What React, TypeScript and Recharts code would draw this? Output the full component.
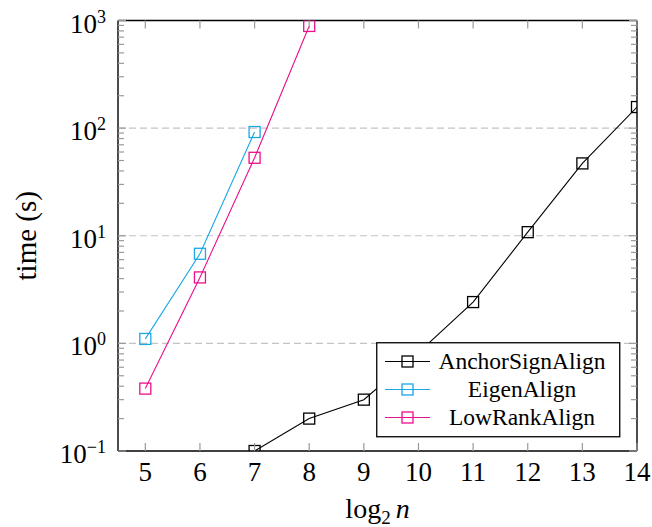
import React from "react";
import { LineChart, Line, XAxis, YAxis, ReferenceLine } from "recharts";

const logN = [5, 6, 7, 8, 9, 10, 11, 12, 13, 14];
const anchorSignAlign = [null, null, 0.1, 0.2, 0.3, 0.82, 2.42, 10.8, 47, 157];
const eigenAlign = [1.1, 6.8, 92, null, null, null, null, null, null, null];
const lowRankAlign = [0.38, 4.1, 53, 890, null, null, null, null, null, null];

const majorTicks = [0.1, 1, 10, 100, 1000];
const minorTicks = [
  0.2, 0.3, 0.4, 0.5, 0.6, 0.7, 0.8, 0.9,
  2, 3, 4, 5, 6, 7, 8, 9,
  20, 30, 40, 50, 60, 70, 80, 90,
  200, 300, 400, 500, 600, 700, 800, 900,
];
const gridValues = [1, 10, 100];

const series = [
  { key: "anchor", name: "AnchorSignAlign", color: "#000000" },
  { key: "eigen", name: "EigenAlign", color: "#1aa7e6" },
  { key: "lowRank", name: "LowRankAlign", color: "#ec0f8c" },
];

const data = logN.map((n, i) => ({
  n,
  anchor: anchorSignAlign[i],
  eigen: eigenAlign[i],
  lowRank: lowRankAlign[i],
}));

const FONT = "'Liberation Serif', 'Times New Roman', serif";
const TICK_COLOR = "#9a9a9a";

function exponent(v: number) {
  const e = Math.round(Math.log10(v));
  return e < 0 ? `\u2212${-e}` : `${e}`;
}

const LeftTick = (props: any) => {
  const { x, y, payload } = props;
  const major = majorTicks.includes(payload.value);
  return (
    <g>
      <line x1={x} x2={x + (major ? 8 : 6)} y1={y} y2={y} stroke={TICK_COLOR} strokeWidth={1.2} />
      {major && (
        <text x={x - 12} y={y + 12} textAnchor="end" fontFamily={FONT} fontSize={27} fill="#000">
          10
          <tspan dy={-10} fontSize={18}>
            {exponent(payload.value)}
          </tspan>
        </text>
      )}
    </g>
  );
};

const RightTick = (props: any) => {
  const { x, y, payload } = props;
  const major = majorTicks.includes(payload.value);
  return <line x1={x} x2={x - (major ? 8 : 6)} y1={y} y2={y} stroke={TICK_COLOR} strokeWidth={1.2} />;
};

const BottomTick = (props: any) => {
  const { x, y, payload } = props;
  return (
    <g>
      <line x1={x} x2={x} y1={y} y2={y - 8} stroke={TICK_COLOR} strokeWidth={1.2} />
      <text x={x} y={y + 30} textAnchor="middle" fontFamily={FONT} fontSize={27} fill="#000">
        {payload.value}
      </text>
    </g>
  );
};

const TopTick = (props: any) => {
  const { x, y } = props;
  return <line x1={x} x2={x} y1={y} y2={y + 8} stroke={TICK_COLOR} strokeWidth={1.2} />;
};

const squareDot = (color: string) => (p: any) => {
  if (p.cx == null || p.cy == null || p.value == null) return <g key={p.index} />;
  return (
    <rect
      key={p.index}
      x={p.cx - 5.5}
      y={p.cy - 5.5}
      width={11}
      height={11}
      fill="none"
      stroke={color}
      strokeWidth={1.3}
    />
  );
};

const XLabel = (props: any) => {
  const vb = props.viewBox;
  return (
    <text x={vb.x + vb.width / 2} y={vb.y + 67} textAnchor="middle" fontFamily={FONT} fontSize={28} fill="#000">
      log
      <tspan dy={6} fontSize={19}>2</tspan>
      <tspan dy={-6} dx={5} fontStyle="italic">n</tspan>
    </text>
  );
};

const YLabel = (props: any) => {
  const vb = props.viewBox;
  const cy = vb.y + vb.height / 2;
  return (
    <text x={36} y={cy} transform={`rotate(-90 36 ${cy})`} textAnchor="middle" fontFamily={FONT} fontSize={29} fill="#000">
      time (s)
    </text>
  );
};

function LegendBox() {
  return (
    <svg
      width={245}
      height={96}
      style={{ position: "absolute", left: 376, top: 342 }}
    >
      <rect x={0.75} y={0.75} width={243} height={94} fill="#fff" stroke="#000" strokeWidth={1.3} />
      {series.map((s, i) => {
        const cy = 19.5 + i * 28;
        return (
          <g key={s.key}>
            <line x1={9} x2={54} y1={cy} y2={cy} stroke={s.color} strokeWidth={1.1} />
            <rect x={26} y={cy - 5.5} width={11} height={11} fill="none" stroke={s.color} strokeWidth={1.3} />
            <text x={146} y={cy + 7.5} textAnchor="middle" fontFamily={FONT} fontSize={23.5} fill="#000">
              {s.name}
            </text>
          </g>
        );
      })}
    </svg>
  );
}

export default function App() {
  return (
    <div style={{ position: "absolute", left: 0, top: 0, width: 652, height: 527, background: "#fff" }}>
      <LineChart width={652} height={527} data={data} margin={{ top: 19.5, right: 14, bottom: 0, left: 0 }}>
        {gridValues.map((v) => (
          <ReferenceLine key={v} y={v} yAxisId="left" stroke="#c4c4c4" strokeWidth={1.2} strokeDasharray="7 4" />
        ))}
        <XAxis
          dataKey="n"
          type="number"
          domain={[4.5, 14]}
          ticks={logN}
          interval={0}
          height={76}
          tickSize={0}
          tickMargin={0}
          tickLine={false}
          tick={<BottomTick />}
          axisLine={{ stroke: "#000", strokeWidth: 1.4 }}
          allowDataOverflow
          label={<XLabel />}
        />
        <XAxis
          xAxisId="top"
          orientation="top"
          dataKey="n"
          type="number"
          domain={[4.5, 14]}
          ticks={logN}
          interval={0}
          height={1}
          tickSize={0}
          tickMargin={0}
          tickLine={false}
          tick={<TopTick />}
          axisLine={{ stroke: "#000", strokeWidth: 1.4 }}
          allowDataOverflow
        />
        <YAxis
          yAxisId="left"
          type="number"
          scale="log"
          domain={[0.1, 1000]}
          ticks={[...majorTicks, ...minorTicks]}
          interval={0}
          width={118}
          tickSize={0}
          tickMargin={0}
          tickLine={false}
          tick={<LeftTick />}
          axisLine={{ stroke: "#000", strokeWidth: 1.4 }}
          allowDataOverflow
          label={<YLabel />}
        />
        <YAxis
          yAxisId="right"
          orientation="right"
          type="number"
          scale="log"
          domain={[0.1, 1000]}
          ticks={[...majorTicks, ...minorTicks]}
          interval={0}
          width={1}
          tickSize={0}
          tickMargin={0}
          tickLine={false}
          tick={<RightTick />}
          axisLine={{ stroke: "#000", strokeWidth: 1.4 }}
          allowDataOverflow
        />
        {series.map((s) => (
          <Line
            key={s.key}
            yAxisId="left"
            dataKey={s.key}
            name={s.name}
            stroke={s.color}
            strokeWidth={1.1}
            dot={squareDot(s.color)}
            activeDot={false}
            connectNulls={false}
            isAnimationActive={false}
          />
        ))}
      </LineChart>
      <LegendBox />
    </div>
  );
}
